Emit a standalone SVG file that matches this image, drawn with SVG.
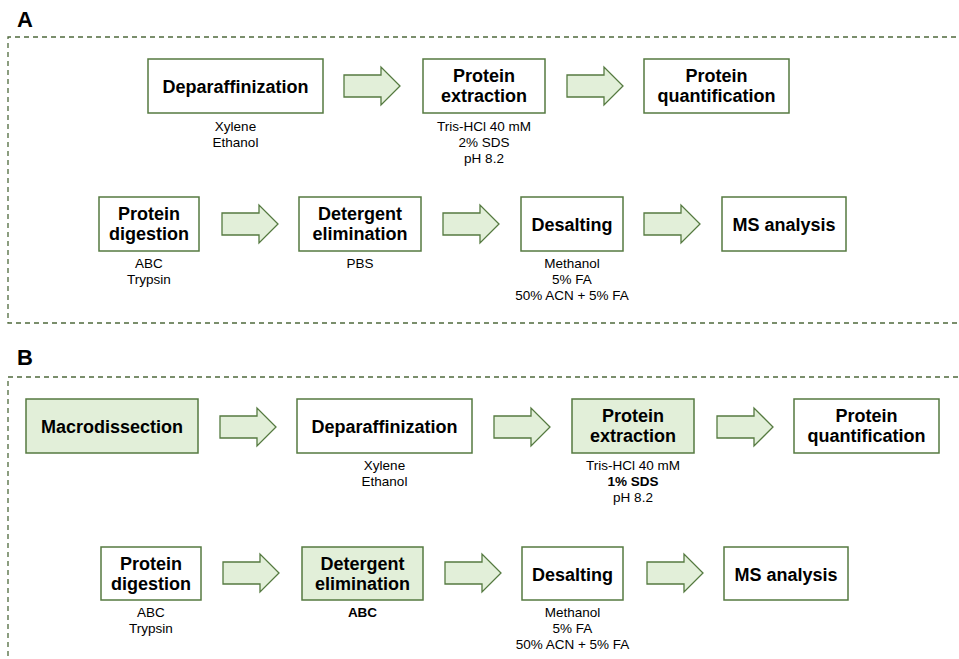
<svg xmlns="http://www.w3.org/2000/svg" xmlns:xlink="http://www.w3.org/1999/xlink" width="959" height="659" viewBox="0 0 959 659">
<style>
.bg{fill:#ffffff}
.frame{fill:none;stroke:#4f6a3c;stroke-width:1.3;stroke-dasharray:5 4}
.box{fill:#ffffff;stroke:#557a40;stroke-width:1.5}
.hl{fill:#e2efd9;stroke:#557a40;stroke-width:1.5}
.arrow{fill:#e2efd9;stroke:#557a40;stroke-width:1.3;stroke-linejoin:miter}
.t{font-family:"Liberation Sans",Arial,sans-serif;font-size:18px;font-weight:bold;fill:#000;text-anchor:middle}
.s{font-family:"Liberation Sans",Arial,sans-serif;font-size:13.5px;fill:#000;text-anchor:middle}
.sb{font-family:"Liberation Sans",Arial,sans-serif;font-size:13.5px;font-weight:bold;fill:#000;text-anchor:middle}
.lbl{font-family:"Liberation Sans",Arial,sans-serif;font-size:22px;font-weight:bold;fill:#000}
</style>
<defs>
<path id="arr" class="arrow" d="M0,8 H37 V0 L56,19 L37,38 V30 H0 Z"/>
</defs>
<rect class="bg" x="0" y="0" width="959" height="659"/>

<g id="panelA">
<text class="lbl" x="17" y="27">A</text>
<path class="frame" d="M965,37 H8 V323 H965"/>
</g>
<g id="panelB">
<text class="lbl" x="17" y="365">B</text>
<path class="frame" d="M8,665 V377 H965"/>
</g>

<g id="connectors">
<use xlink:href="#arr" href="#arr" x="344" y="67"/>
<use xlink:href="#arr" href="#arr" x="567" y="67"/>
<use xlink:href="#arr" href="#arr" x="222" y="205"/>
<use xlink:href="#arr" href="#arr" x="443" y="205"/>
<use xlink:href="#arr" href="#arr" x="644" y="205"/>
<use xlink:href="#arr" href="#arr" x="220" y="408"/>
<use xlink:href="#arr" href="#arr" x="494" y="408"/>
<use xlink:href="#arr" href="#arr" x="717" y="408"/>
<use xlink:href="#arr" href="#arr" x="223" y="554"/>
<use xlink:href="#arr" href="#arr" x="445" y="554"/>
<use xlink:href="#arr" href="#arr" x="647" y="554"/>
</g>

<!-- Panel A row 1 -->
<g id="a_deparaffinization">
<rect class="box" x="148" y="59" width="175" height="54"/>
<text class="t" x="235.5" y="93">Deparaffinization</text>
<text class="s" x="235.5" y="131">Xylene</text>
<text class="s" x="235.5" y="147">Ethanol</text>
</g>
<g id="a_protein_extraction">
<rect class="box" x="423" y="59" width="122" height="54"/>
<text class="t" x="484" y="82">Protein</text>
<text class="t" x="484" y="102">extraction</text>
<text class="s" x="484" y="131">Tris-HCl 40 mM</text>
<text class="s" x="484" y="147">2% SDS</text>
<text class="s" x="484" y="163">pH 8.2</text>
</g>
<g id="a_protein_quantification">
<rect class="box" x="644" y="59" width="145" height="54"/>
<text class="t" x="716.5" y="82">Protein</text>
<text class="t" x="716.5" y="102">quantification</text>
</g>

<!-- Panel A row 2 -->
<g id="a_protein_digestion">
<rect class="box" x="99" y="197" width="100" height="54"/>
<text class="t" x="149" y="220">Protein</text>
<text class="t" x="149" y="240">digestion</text>
<text class="s" x="149" y="268">ABC</text>
<text class="s" x="149" y="284">Trypsin</text>
</g>
<g id="a_detergent_elimination">
<rect class="box" x="299" y="197" width="122" height="54"/>
<text class="t" x="360" y="220">Detergent</text>
<text class="t" x="360" y="240">elimination</text>
<text class="s" x="360" y="268">PBS</text>
</g>
<g id="a_desalting">
<rect class="box" x="521" y="197" width="102" height="54"/>
<text class="t" x="572" y="231">Desalting</text>
<text class="s" x="572" y="268">Methanol</text>
<text class="s" x="572" y="284">5% FA</text>
<text class="s" x="572" y="300">50% ACN + 5% FA</text>
</g>
<g id="a_ms_analysis">
<rect class="box" x="722" y="197" width="124" height="54"/>
<text class="t" x="784" y="231">MS analysis</text>
</g>

<!-- Panel B row 1 -->
<g id="b_macrodissection">
<rect class="hl" x="26" y="399" width="172" height="54"/>
<text class="t" x="112" y="433">Macrodissection</text>
</g>
<g id="b_deparaffinization">
<rect class="box" x="297" y="399" width="175" height="54"/>
<text class="t" x="384.5" y="433">Deparaffinization</text>
<text class="s" x="384.5" y="470">Xylene</text>
<text class="s" x="384.5" y="486">Ethanol</text>
</g>
<g id="b_protein_extraction">
<rect class="hl" x="572" y="399" width="122" height="54"/>
<text class="t" x="633" y="422">Protein</text>
<text class="t" x="633" y="442">extraction</text>
<text class="s" x="633" y="470">Tris-HCl 40 mM</text>
<text class="sb" x="633" y="486">1% SDS</text>
<text class="s" x="633" y="502">pH 8.2</text>
</g>
<g id="b_protein_quantification">
<rect class="box" x="794" y="399" width="145" height="54"/>
<text class="t" x="866.5" y="422">Protein</text>
<text class="t" x="866.5" y="442">quantification</text>
</g>

<!-- Panel B row 2 -->
<g id="b_protein_digestion">
<rect class="box" x="101" y="547" width="100" height="53"/>
<text class="t" x="151" y="569.5">Protein</text>
<text class="t" x="151" y="589.5">digestion</text>
<text class="s" x="151" y="617">ABC</text>
<text class="s" x="151" y="633">Trypsin</text>
</g>
<g id="b_detergent_elimination">
<rect class="hl" x="302" y="547" width="121" height="53"/>
<text class="t" x="362.5" y="569.5">Detergent</text>
<text class="t" x="362.5" y="589.5">elimination</text>
<text class="sb" x="362.5" y="617">ABC</text>
</g>
<g id="b_desalting">
<rect class="box" x="522" y="547" width="101" height="53"/>
<text class="t" x="572.5" y="580.5">Desalting</text>
<text class="s" x="572.5" y="617">Methanol</text>
<text class="s" x="572.5" y="633">5% FA</text>
<text class="s" x="572.5" y="649">50% ACN + 5% FA</text>
</g>
<g id="b_ms_analysis">
<rect class="box" x="724" y="547" width="124" height="53"/>
<text class="t" x="786" y="580.5">MS analysis</text>
</g>
</svg>
